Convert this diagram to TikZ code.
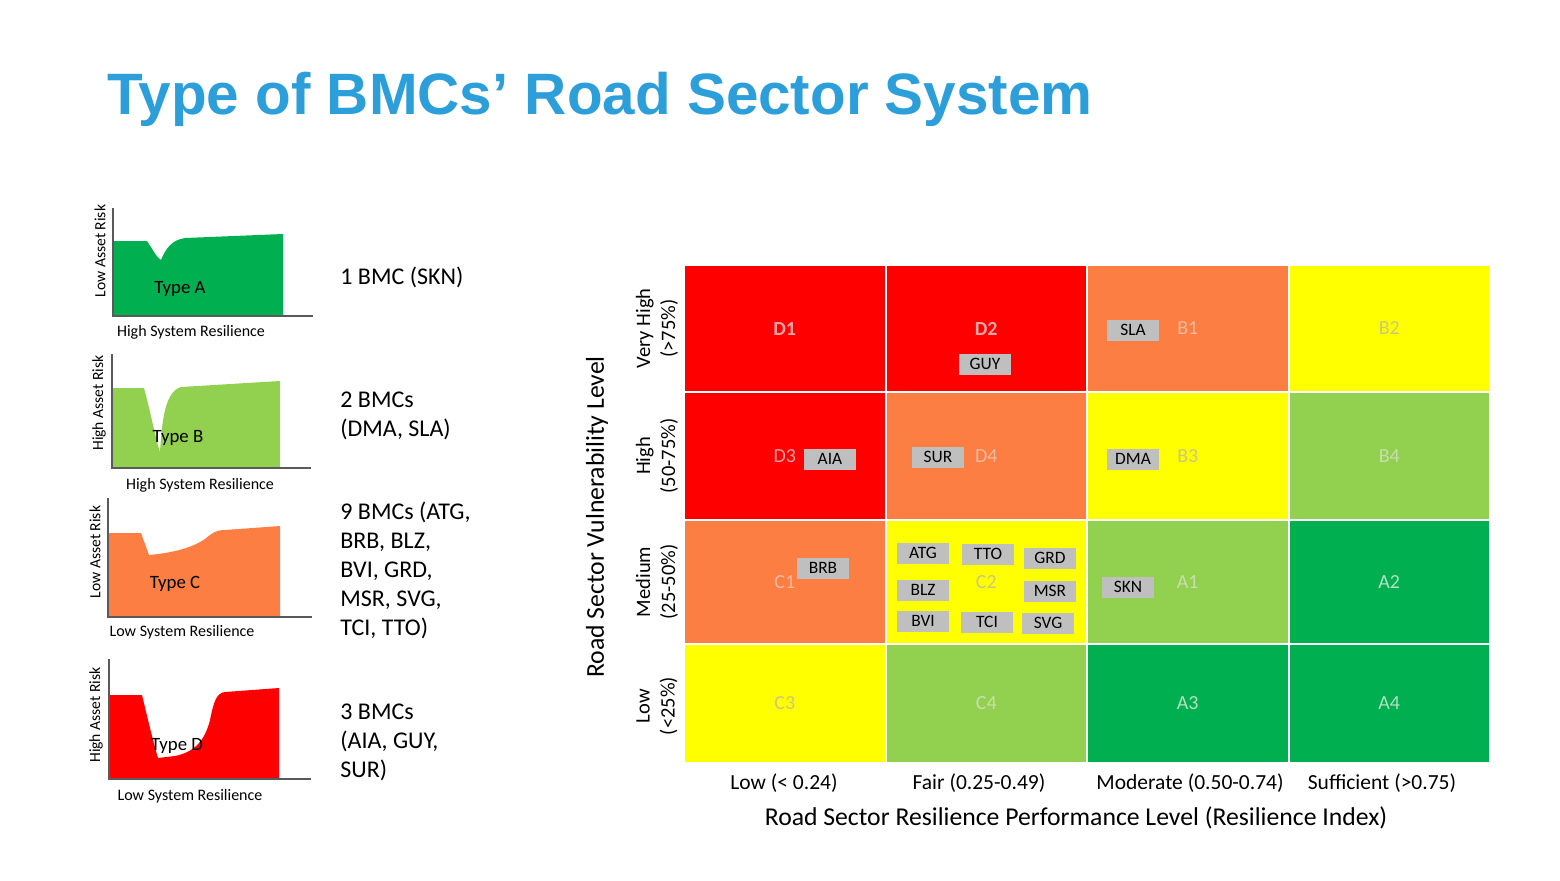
\documentclass[tikz,border=0pt]{standalone}
\usepackage{fontspec}
\setmainfont{Carlito}
\newfontfamily\titlefont{Liberation Sans}
\usetikzlibrary{positioning}
\definecolor{ttlblue}{RGB}{44,159,218}
\definecolor{cred}{RGB}{255,0,0}
\definecolor{corange}{RGB}{253,126,66}
\definecolor{cyellow}{RGB}{255,255,0}
\definecolor{clgreen}{RGB}{146,208,80}
\definecolor{cgreen}{RGB}{0,176,80}
\definecolor{tred}{RGB}{242,165,165}
\definecolor{torange}{RGB}{240,185,160}
\definecolor{tyellow}{RGB}{205,200,120}
\definecolor{tlgreen}{RGB}{200,222,175}
\definecolor{tgreen}{RGB}{180,225,195}
\definecolor{badgegray}{RGB}{191,191,191}
\definecolor{axisgray}{RGB}{90,90,90}
\tikzset{
  cell/.style={draw=white, line width=1pt, minimum width=100.75pt, inner sep=0pt, font=\fontsize{10}{12}\selectfont},
  badge/.style={fill=badgegray, minimum width=26pt, minimum height=10.5pt, inner sep=0pt, font=\fontsize{8.7}{10}\selectfont},
  collab/.style={inner sep=0pt, font=\fontsize{10.75}{13}\selectfont},
  axtitle/.style={inner sep=0pt, font=\fontsize{12.85}{15}\selectfont},
  rowlab/.style={rotate=90, align=center, inner sep=0pt, font=\fontsize{10.25}{12.5}\selectfont},
  counttxt/.style={anchor=west, align=left, inner sep=0pt, font=\fontsize{12}{14.5}\selectfont},
  typelab/.style={inner sep=0pt, font=\fontsize{9.4}{11}\selectfont},
  reslab/.style={inner sep=0pt, font=\fontsize{8}{10}\selectfont},
  risklab/.style={rotate=90, inner sep=0pt, font=\fontsize{7.8}{9}\selectfont},
  chartaxis/.style={draw=axisgray, line width=0.75pt},
}

\begin{document}
\begin{tikzpicture}[x=0.5pt, y=-0.5pt]
  \useasboundingbox (0,0) rectangle (1560,880);

  % title
  \node[anchor=base west, inner sep=0pt, text=ttlblue, font=\titlefont\bfseries\fontsize{29.2}{34}\selectfont] (title) at (107,114) {Type of BMCs’ Road Sector System};

  % small resilience curves
  \fill[cgreen] (113,316) -- (113,241) -- (147,241) .. controls (153,250) and (157,258) .. (161,260) .. controls (166,248) and (172,240) .. (185,238) -- (283,234) -- (283,316) -- cycle;
  \draw[chartaxis] (113,208) -- (113,316) -- (313,316);
  \node[typelab] (typea) at (180,289) {Type A};
  \node[reslab] (resa) at (191,332) {High System Resilience};
  \node[risklab] (riska) at (100,251) {Low Asset Risk};

  \fill[clgreen] (112,468) -- (112,388) -- (144,388) .. controls (150,410) and (156,440) .. (160,452) .. controls (162,420) and (165,392) .. (181,387) -- (280,381) -- (280,468) -- cycle;
  \draw[chartaxis] (112,354) -- (112,468) -- (311,468);
  \node[typelab] (typeb) at (178,438) {Type B};
  \node[reslab] (resb) at (200,485) {High System Resilience};
  \node[risklab] (riskb) at (99,403) {High Asset Risk};

  \fill[corange] (108,617) -- (108,533) -- (141,533) -- (149,555) .. controls (170,553) and (190,549) .. (205,539) .. controls (212,533) and (216,530) .. (225,530) -- (280,526) -- (280,617) -- cycle;
  \draw[chartaxis] (108,498) -- (108,617) -- (312,617);
  \node[typelab] (typec) at (175,584) {Type C};
  \node[reslab] (resc) at (182,632) {Low System Resilience};
  \node[risklab] (riskc) at (95,552) {Low Asset Risk};

  \fill[cred] (109,779) -- (109,695) -- (142,695) .. controls (148,720) and (154,745) .. (158,758) -- (175,756) .. controls (195,752) and (205,740) .. (210,720) .. controls (214,700) and (217,693) .. (225,692) -- (279,688) -- (279,779) -- cycle;
  \draw[chartaxis] (109,659) -- (109,779) -- (311,779);
  \node[typelab] (typed) at (177,746) {Type D};
  \node[reslab] (resd) at (190,796) {Low System Resilience};
  \node[risklab] (riskd) at (96,715) {High Asset Risk};

  % counts
  \node[counttxt] (cnta) at (340,277) {1 BMC (SKN)};
  \node[counttxt] (cntb) at (340,415.5) {2 BMCs\\(DMA, SLA)};
  \node[counttxt] (cntc) at (340,570.5) {9 BMCs (ATG,\\BRB, BLZ,\\BVI, GRD,\\MSR, SVG,\\TCI, TTO)};
  \node[counttxt] (cntd) at (340,742) {3 BMCs\\(AIA, GUY,\\SUR)};

  % matrix cells
  \foreach \n/\x/\y/\h/\bg/\tc/\lab in {
      d1/784.75/328.5/63.5/cred/tred/\textbf{D1},
      d2/986.25/328.5/63.5/cred/tred/\textbf{D2},
      b1/1187.75/328.5/63.5/corange/torange/B1,
      b2/1389.25/328.5/63.5/cyellow/tyellow/B2,
      d3/784.75/456/64/cred/tred/D3,
      d4/986.25/456/64/corange/torange/D4,
      b3/1187.75/456/64/cyellow/tyellow/B3,
      b4/1389.25/456/64/clgreen/tlgreen/B4,
      c1/784.75/582/62/corange/torange/C1,
      c2/986.25/582/62/cyellow/tyellow/C2,
      a1/1187.75/582/62/clgreen/tlgreen/A1,
      a2/1389.25/582/62/cgreen/tgreen/A2,
      c3/784.75/703.5/59.5/cyellow/tyellow/C3,
      c4/986.25/703.5/59.5/clgreen/tlgreen/C4,
      a3/1187.75/703.5/59.5/cgreen/tgreen/A3,
      a4/1389.25/703.5/59.5/cgreen/tgreen/A4}
    \node[cell, fill=\bg, text=\tc, minimum height=\h pt] (\n) at (\x,\y) {\lab};

  % BMC badges
  \node[badge] (guy) at (985,364) {GUY};
  \node[badge] (aia) at (830,459) {AIA};
  \node[badge] (sur) at (938,457) {SUR};
  \node[badge] (sla) at (1133,330) {SLA};
  \node[badge] (dma) at (1133,459) {DMA};
  \node[badge] (brb) at (823,568) {BRB};
  \node[badge] (atg) at (923,553) {ATG};
  \node[badge] (tto) at (988,554) {TTO};
  \node[badge] (grd) at (1050,558) {GRD};
  \node[badge] (blz) at (923,590) {BLZ};
  \node[badge] (msr) at (1050,591) {MSR};
  \node[badge] (bvi) at (923,621) {BVI};
  \node[badge] (tci) at (987,622) {TCI};
  \node[badge] (svg) at (1048,623) {SVG};
  \node[badge] (skn) at (1128,587) {SKN};

  % axes labels
  \node[rowlab] (rvh) at (657,328.5) {Very High\\(>75\%)};
  \node[rowlab] (rh) at (657,456) {High\\(50-75\%)};
  \node[rowlab] (rm) at (657,582) {Medium\\(25-50\%)};
  \node[rowlab] (rl) at (657,706) {Low\\(<25\%)};
  \node[axtitle, rotate=90] (vtitle) at (597,517) {Road Sector Vulnerability Level};

  \node[collab] (clow) at (784,783) {Low (< 0.24)};
  \node[collab] (cfair) at (979,783) {Fair (0.25-0.49)};
  \node[collab] (cmod) at (1190,783) {Moderate (0.50-0.74)};
  \node[collab] (csuf) at (1382,783) {Sufficient (>0.75)};
  \node[axtitle] (htitle) at (1076,818) {Road Sector Resilience Performance Level (Resilience Index)};
\end{tikzpicture}
\end{document}
